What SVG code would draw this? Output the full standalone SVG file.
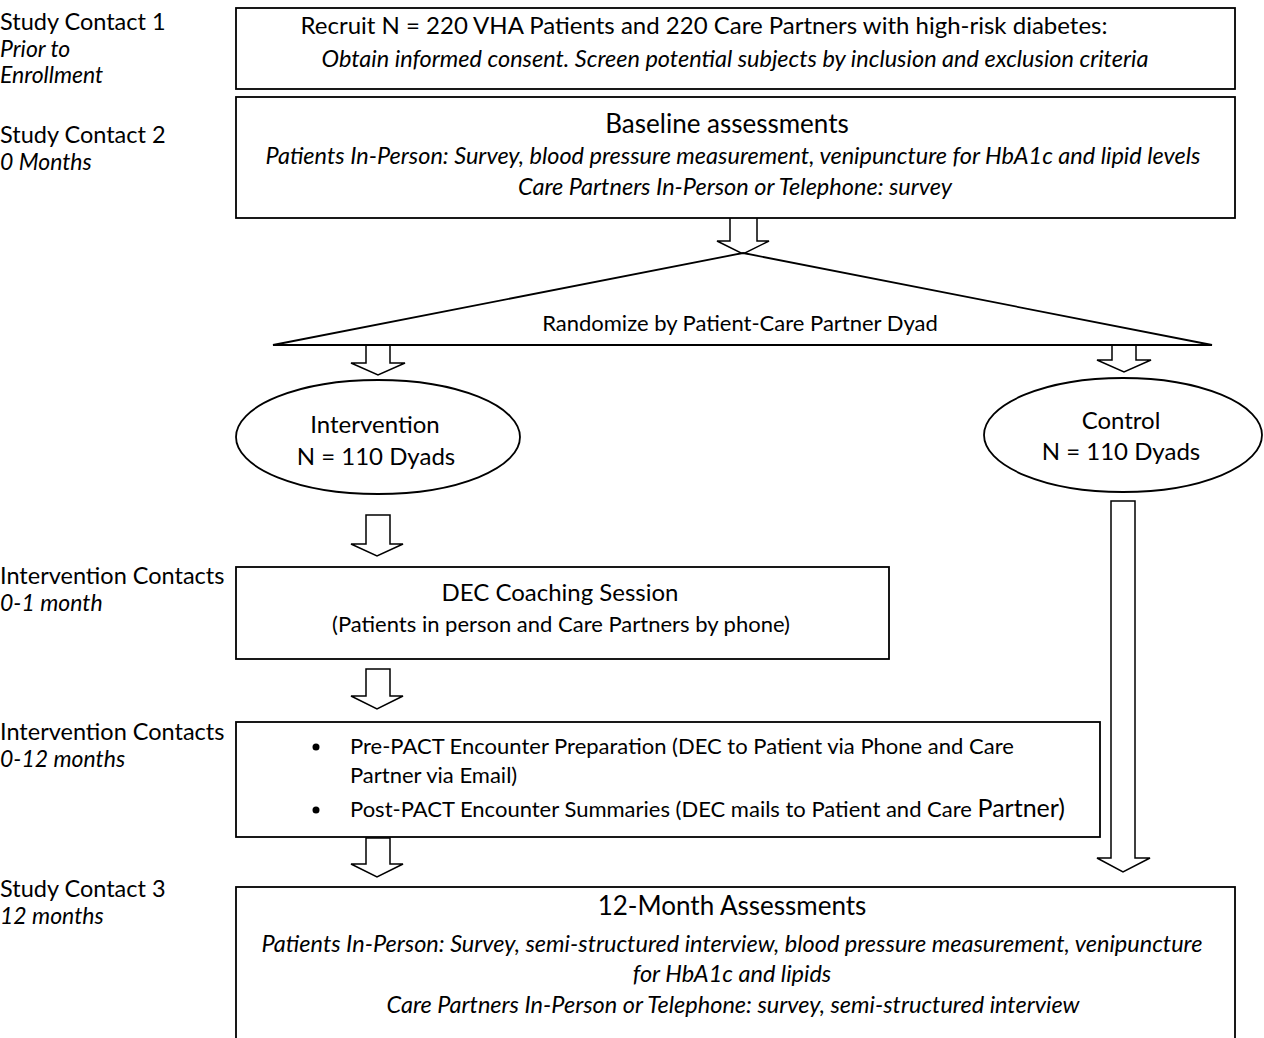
<svg xmlns="http://www.w3.org/2000/svg" width="1264" height="1038" viewBox="0 0 1264 1038">
<style>
text{font-family:Lato,"Liberation Sans",sans-serif;fill:#000}
.lab{font-size:23.5px}
.sub{font-size:23px;font-style:italic}
.t{font-size:22px;text-anchor:middle}
.h{font-size:26px;text-anchor:middle}
.e{font-size:24px;text-anchor:middle}
.i{font-size:23.5px;font-style:italic;text-anchor:middle}
.bl{font-size:22px}
.b{fill:#fff;stroke:#000;stroke-width:1.8}
.ar{fill:#fff;stroke:#000;stroke-width:1.5;stroke-linejoin:miter}
</style>
<rect width="1264" height="1038" fill="#fff"/>
<g id="labels">
<text class="lab" x="0" y="30">Study Contact 1</text>
<text class="sub" x="0" y="57">Prior to</text>
<text class="sub" x="0" y="83">Enrollment</text>
<text class="lab" x="0" y="143">Study Contact 2</text>
<text class="sub" x="0" y="170">0 Months</text>
<text class="lab" x="0" y="584">Intervention Contacts</text>
<text class="sub" x="0" y="611">0-1 month</text>
<text class="lab" x="0" y="740">Intervention Contacts</text>
<text class="sub" x="0" y="767">0-12 months</text>
<text class="lab" x="0" y="897">Study Contact 3</text>
<text class="sub" x="0" y="924">12 months</text>
</g>
<g id="connectors">
<polygon class="ar" points="730,214 757,214 757,241 769,241 743,254 717,241 730,241"/>
<polygon class="ar" points="366,345 390,345 390,363 405,363 378,375 351,363 366,363"/>
<polygon class="ar" points="1112,345 1136,345 1136,360 1151,360 1124,372 1097,360 1112,360"/>
<polygon class="ar" points="366,515 390,515 390,544 403,544 377,556 351,544 366,544"/>
<polygon class="ar" points="366,669 390,669 390,696 403,696 377,709 351,696 366,696"/>
<polygon class="ar" points="366,838 390,838 390,864 403,864 377,877 351,864 366,864"/>
<polygon class="ar" points="1111,501 1135,501 1135,858 1150,858 1123,872 1097,858 1111,858"/>
</g>
<g id="n-recruit">
<rect class="b" x="236" y="8" width="999" height="81"/>
<text class="t" x="704" y="34" style="font-size:24px">Recruit N = 220 VHA Patients and 220 Care Partners with high-risk diabetes:</text>
<text class="i" x="735" y="67">Obtain informed consent. Screen potential subjects by inclusion and exclusion criteria</text>
</g>
<g id="n-baseline">
<rect class="b" x="236" y="97" width="999" height="121"/>
<text class="h" x="727" y="133">Baseline assessments</text>
<text class="i" x="733" y="164">Patients In-Person: Survey, blood pressure measurement, venipuncture for HbA1c and lipid levels</text>
<text class="i" x="735" y="195">Care Partners In-Person or Telephone: survey</text>
</g>
<g id="n-randomize">
<polygon fill="#fff" stroke="#000" stroke-width="1.8" stroke-linejoin="miter" points="743,253 1212,345 273,345"/>
<text class="t" x="740" y="331">Randomize by Patient-Care Partner Dyad</text>
</g>
<g id="n-intervention">
<ellipse class="b" cx="378" cy="437" rx="142" ry="57"/>
<text class="e" x="375" y="433">Intervention</text>
<text class="e" x="376" y="465">N = 110 Dyads</text>
</g>
<g id="n-control">
<ellipse class="b" cx="1123" cy="435" rx="139" ry="57"/>
<text class="e" x="1121" y="429">Control</text>
<text class="e" x="1121" y="460">N = 110 Dyads</text>
</g>
<g id="n-dec">
<rect class="b" x="236" y="567" width="653" height="92"/>
<text class="e" x="560" y="601">DEC Coaching Session</text>
<text class="t" x="561" y="632">(Patients in person and Care Partners by phone)</text>
</g>
<g id="n-pact">
<rect class="b" x="236" y="722" width="864" height="115"/>
<circle cx="316" cy="747" r="3.5"/>
<circle cx="316" cy="810" r="3.5"/>
<text class="bl" x="350" y="754">Pre-PACT Encounter Preparation (DEC to Patient via Phone and Care</text>
<text class="bl" x="350" y="783">Partner via Email)</text>
<text class="bl" x="350" y="817">Post-PACT Encounter Summaries (DEC mails to Patient and Care <tspan style="font-size:25px">Partner)</tspan></text>
</g>
<g id="n-12month">
<rect class="b" x="236" y="887" width="999" height="160"/>
<text class="h" x="732" y="915">12-Month Assessments</text>
<text class="i" x="732" y="952">Patients In-Person: Survey, semi-structured interview, blood pressure measurement, venipuncture</text>
<text class="i" x="732" y="982">for HbA1c and lipids</text>
<text class="i" x="733" y="1013">Care Partners In-Person or Telephone: survey, semi-structured interview</text>
</g>
</svg>
